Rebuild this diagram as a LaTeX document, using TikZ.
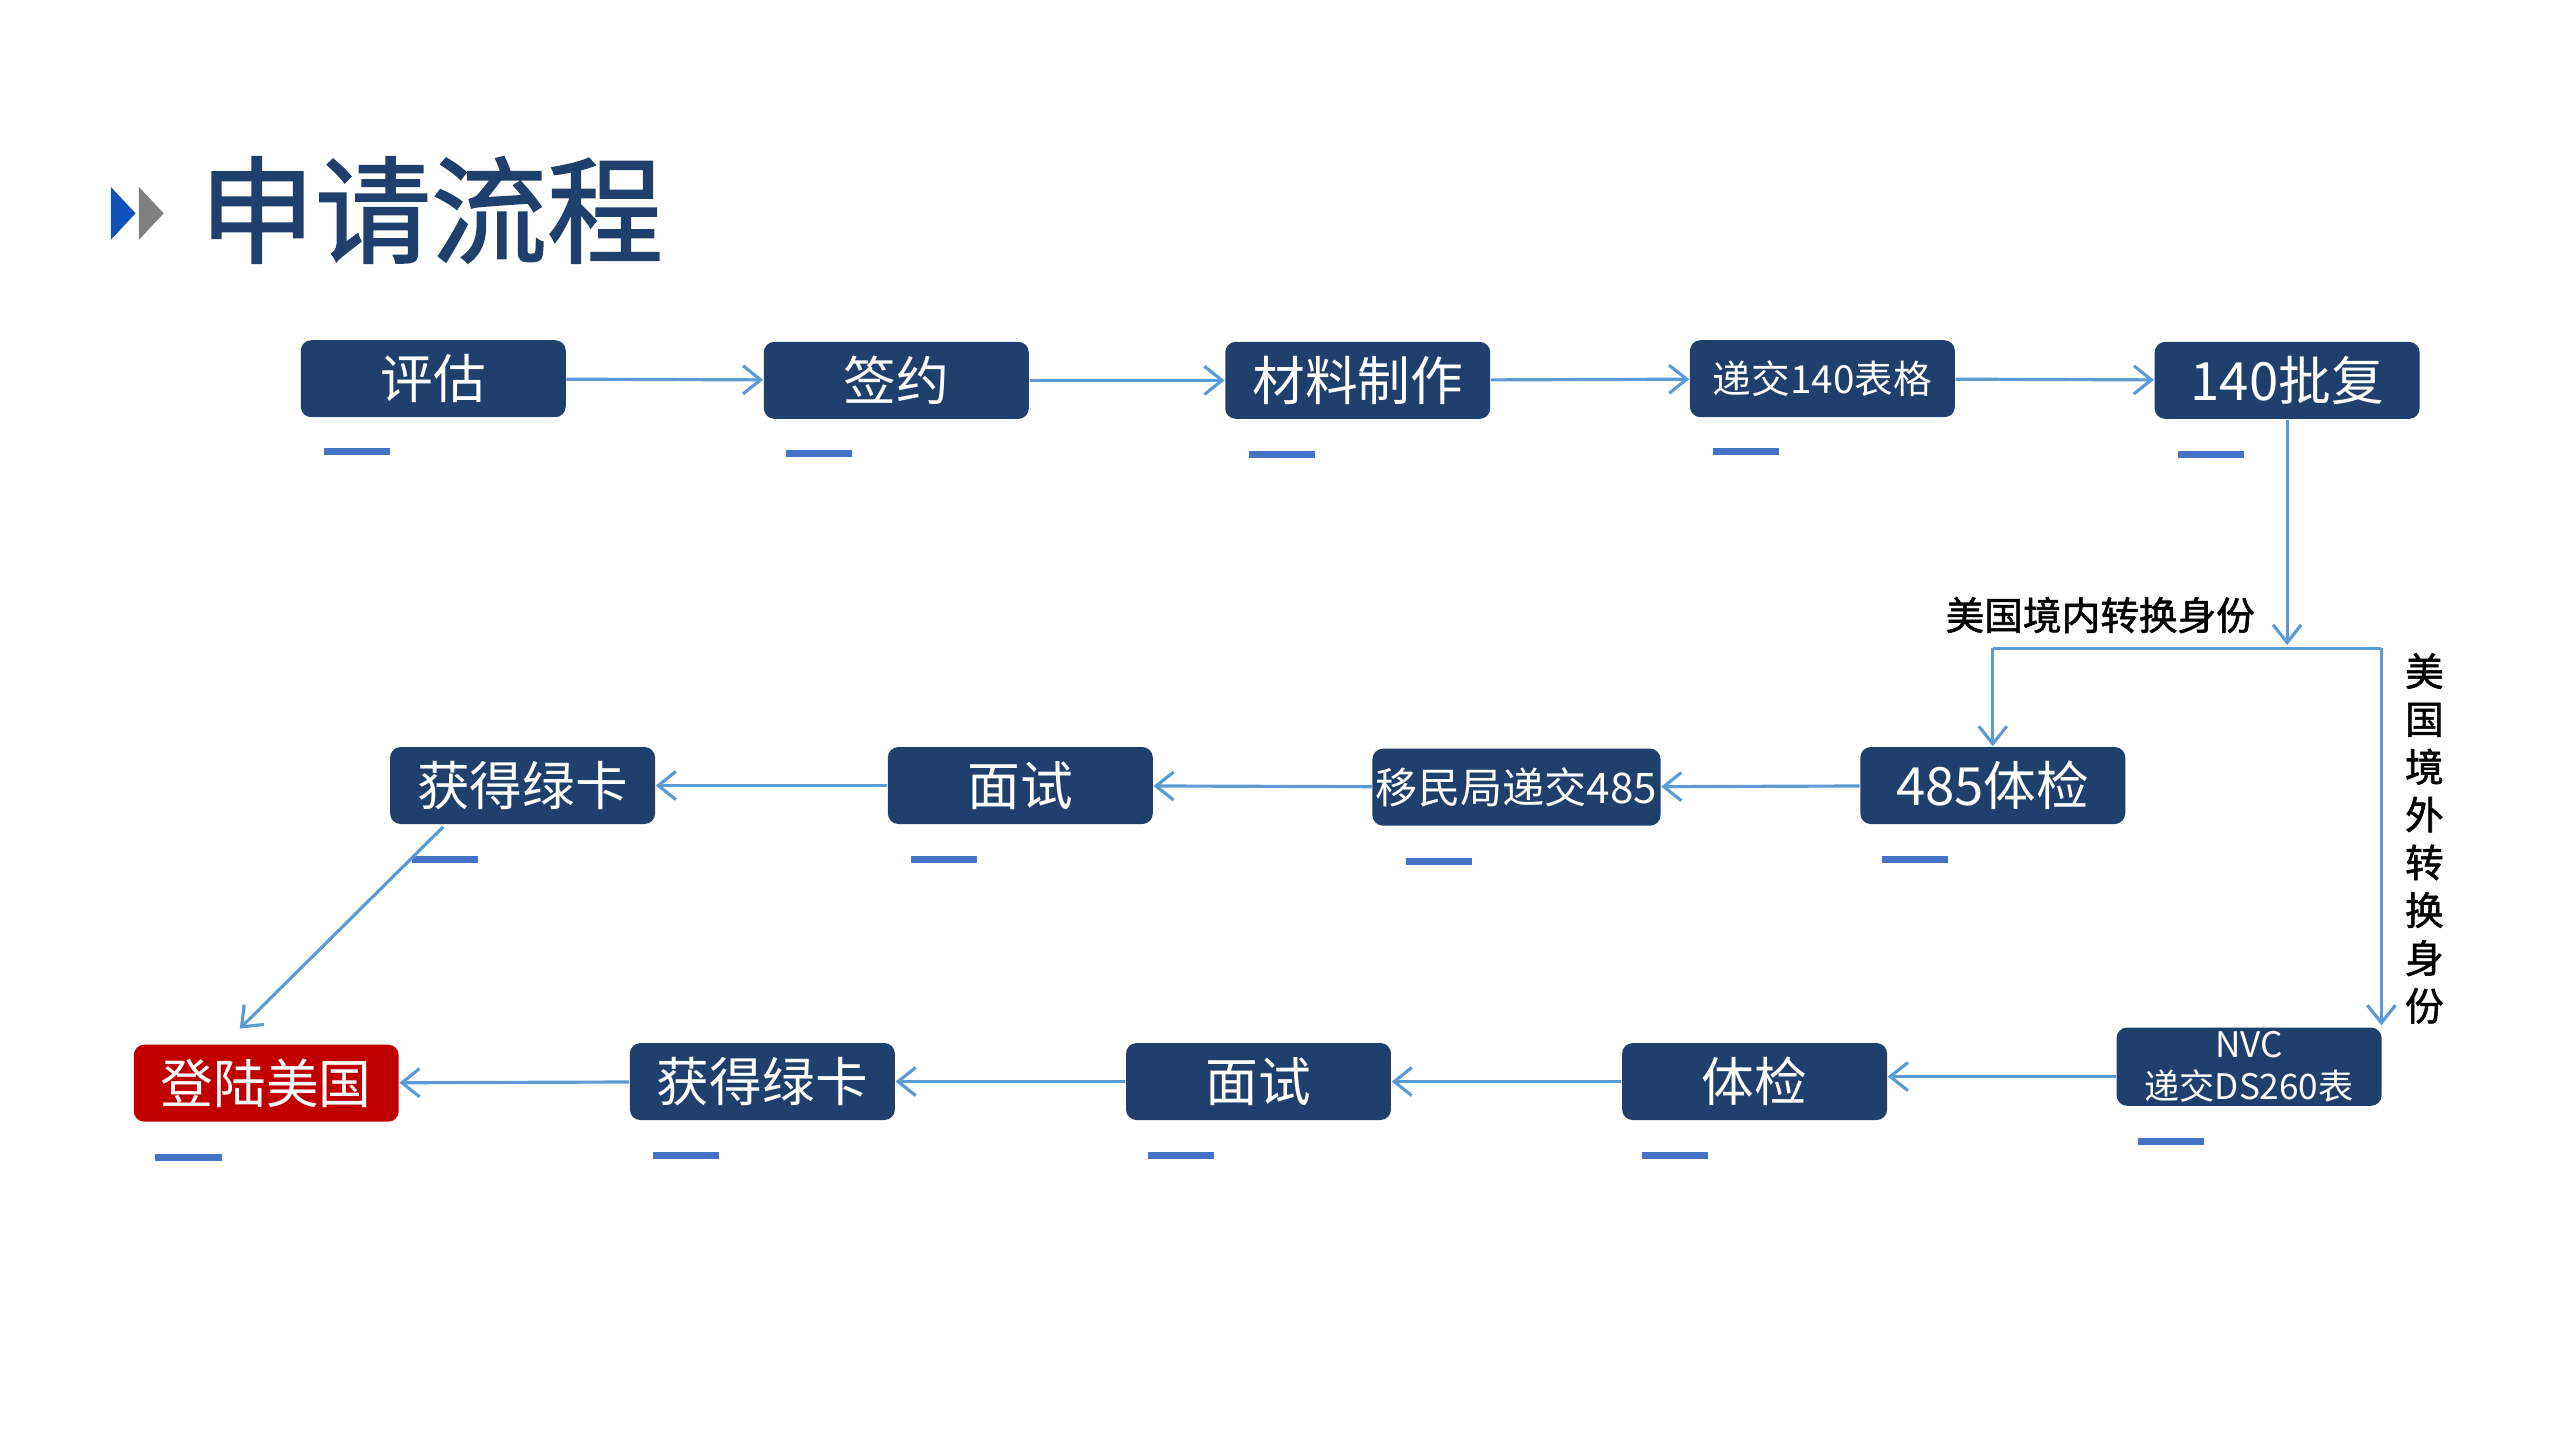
\documentclass[tikz,border=0pt]{standalone}
\usepackage{fontspec}
\setmainfont{Noto Sans CJK SC}
\newfontfamily\cjkb[FakeBold=1.5]{Noto Sans CJK SC}
\usetikzlibrary{arrows.meta}
\definecolor{nb}{RGB}{31,64,109}
\definecolor{ln}{RGB}{91,155,213}
\definecolor{bar}{RGB}{68,114,196}
\definecolor{rd}{RGB}{192,0,0}
\tikzset{
 box/.style={fill=nb,rounded corners=3pt,minimum width=2.65cm,minimum height=0.77cm,inner sep=1pt,text=white,font=\fontsize{15}{17}\selectfont},
 sbox/.style={box,font=\fontsize{11}{12}\selectfont},
 conn/.style={draw=ln,line width=0.9pt,-{Straight Barb[length=5pt,width=8pt]}},
 ubar/.style={draw=bar,line width=2pt},
}
\begin{document}
\begin{tikzpicture}[x=0.01654cm,y=-0.01654cm]
\useasboundingbox (0,0) rectangle (1548,871);
% title
\fill[nb!60!blue!80!cyan] (67,113) -- (82,129) -- (67,145) -- cycle;
\fill[gray] (84,113) -- (99,129) -- (84,145) -- cycle;
\node[anchor=west,text=nb,font=\cjkb\fontsize{33}{36}\selectfont,inner sep=0] (title) at (120,127) {申请流程};
% row 1
\node[box] (a1) at (262,229) {评估};
\node[box] (a2) at (542,230) {签约};
\node[box] (a3) at (821,230) {材料制作};
\node[sbox] (a4) at (1102,229) {递交140表格};
\node[box] (a5) at (1383,230) {140批复};
% row 2
\node[box] (b1) at (1205,475) {485体检};
\node[sbox,font=\fontsize{12}{13}\selectfont] (b2) at (917,476) {移民局递交485};
\node[box] (b3) at (617,475) {面试};
\node[box] (b4) at (316,475) {获得绿卡};
% row 3
\node[sbox,align=center,font=\fontsize{10}{12}\selectfont] (c1) at (1360,645) {NVC\\递交DS260表};
\node[box] (c2) at (1061,654) {体检};
\node[box] (c3) at (761,654) {面试};
\node[box] (c4) at (461,654) {获得绿卡};
\node[box,fill=rd] (c5) at (161,655) {登陆美国};
% underline bars
\foreach \x/\y in {196/273,475/274,755/275,1036/273,1317/275,1138/520,850/521,551/520,249/520,1293/690,993/699,694/699,395/699,94/700}
  \draw[ubar] (\x,\y) -- ++(40,0);
% connectors
\draw[conn] (a1) -- (a2);
\draw[conn] (a2) -- (a3);
\draw[conn] (a3) -- (a4);
\draw[conn] (a4) -- (a5);
\coordinate (j) at (1383,390);
\coordinate (l) at (1205,392);
\coordinate (r) at (1440,392);
\coordinate (re) at (1440,620);
\draw[conn] (a5) -- (j);
\draw[draw=ln,line width=0.9pt] (l) -- (r);
\draw[conn] (l) -- (b1.north);
\draw[conn] (r) -- (re);
\draw[conn] (b1) -- (b2);
\draw[conn] (b2) -- (b3);
\draw[conn] (b3) -- (b4);
\coordinate (s) at (268,500);
\coordinate (e) at (145,622);
\draw[conn] (s) -- (e);
\draw[conn] (c1.west |- 0,651) -- (c2.east |- 0,651);
\draw[conn] (c2) -- (c3);
\draw[conn] (c3) -- (c4);
\draw[conn] (c4) -- (c5);
% labels
\node[font=\cjkb\fontsize{11}{12}\selectfont] (lab1) at (1270,372) {美国境内转换身份};
\node[font=\cjkb\fontsize{11}{13.6}\selectfont,align=center] (lab2) at (1466,507) {美\\国\\境\\外\\转\\换\\身\\份};
\end{tikzpicture}
\end{document}
